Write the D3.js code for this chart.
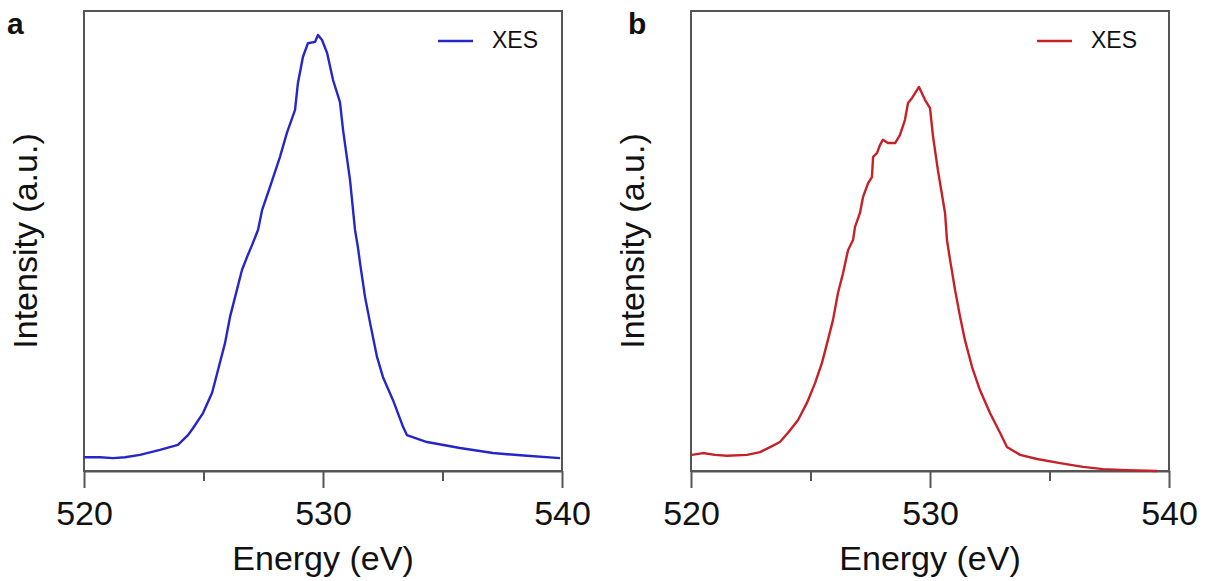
<!DOCTYPE html>
<html>
<head>
<meta charset="utf-8">
<script src="https://cdn.jsdelivr.net/npm/d3@7"></script>
<style>
  body { margin: 0; background: #fff; }
  text { font-family: 'Liberation Sans', Arial, sans-serif; fill: #111; }
  .axis path, .axis line, .frame { stroke: #555; stroke-width: 2; }
</style>
</head>
<body>
<svg id="chart"></svg>
<script>
// X-Axis: Energy (eV)
// Y-Axis: Intensity (a.u.), no tick labels
const xTicks = [520, 530, 540];
const xMinorTicks = [525, 535];

// panel a (blue)
const energyA = [520.00, 520.67, 521.21, 521.72, 522.34, 523.18, 523.93, 524.35, 524.56, 524.98,
  525.36, 525.61, 525.90, 526.11, 526.32, 526.61, 526.82, 527.03, 527.28, 527.45,
  527.78, 528.20, 528.49, 528.83, 528.95, 529.16, 529.37, 529.67, 529.79, 529.96,
  530.17, 530.42, 530.71, 530.84, 531.13, 531.34, 531.46, 531.55, 531.76, 531.97,
  532.26, 532.51, 532.93, 533.35, 533.51, 534.35, 535.73, 537.11, 538.54, 539.92];
const intensityA = [0.030, 0.030, 0.028, 0.030, 0.035, 0.046, 0.057, 0.078, 0.093, 0.126,
  0.170, 0.220, 0.278, 0.335, 0.378, 0.437, 0.465, 0.491, 0.524, 0.567,
  0.617, 0.683, 0.735, 0.785, 0.843, 0.900, 0.930, 0.933, 0.948, 0.937,
  0.909, 0.850, 0.802, 0.741, 0.633, 0.524, 0.487, 0.452, 0.378, 0.322,
  0.248, 0.204, 0.154, 0.096, 0.078, 0.063, 0.050, 0.039, 0.033, 0.028];

// panel b (red)
const energyB = [520.04, 520.50, 521.00, 521.51, 522.34, 522.89, 523.31, 523.72, 524.06, 524.48,
  524.85, 525.19, 525.48, 525.73, 525.94, 526.15, 526.36, 526.57, 526.78, 526.86,
  527.07, 527.20, 527.41, 527.57, 527.62, 527.78, 527.91, 528.03, 528.24, 528.54,
  528.74, 528.95, 529.08, 529.25, 529.54, 529.79, 530.00, 530.13, 530.33, 530.63,
  530.71, 530.84, 531.05, 531.26, 531.46, 531.76, 532.09, 532.51, 532.93, 533.22,
  533.77, 534.48, 535.44, 536.40, 537.24, 538.24, 539.50];
const intensityB = [0.035, 0.039, 0.035, 0.033, 0.035, 0.041, 0.052, 0.063, 0.083, 0.111,
  0.148, 0.191, 0.235, 0.285, 0.328, 0.387, 0.430, 0.480, 0.502, 0.530,
  0.561, 0.596, 0.626, 0.639, 0.683, 0.691, 0.709, 0.720, 0.713, 0.713,
  0.730, 0.763, 0.800, 0.811, 0.835, 0.807, 0.789, 0.726, 0.654, 0.561,
  0.502, 0.459, 0.393, 0.335, 0.285, 0.226, 0.176, 0.126, 0.083, 0.052,
  0.035, 0.026, 0.017, 0.009, 0.004, 0.002, 0.000];

const zip = (xs, ys) => xs.map((x, i) => ({ energy: x, intensity: ys[i] }));

class XesPanel {
  constructor(_config, _data) {
    this.config = {
      svg: _config.svg,
      left: _config.left,
      top: 11,
      width: 478,
      height: 460,
      color: _config.color,
      letter: _config.letter,
      letterX: _config.letterX,
      yLabelX: _config.yLabelX,
      legendX: _config.legendX,
    };
    this.data = _data;
    this.initVis();
  }

  initVis() {
    const vis = this;
    const c = vis.config;

    vis.xScale = d3.scaleLinear().domain([520, 540]).range([0, c.width]);
    vis.yScale = d3.scaleLinear().domain([0, 1]).range([c.height, 0]);

    vis.chart = c.svg.append('g')
      .attr('transform', `translate(${c.left},${c.top})`);

    // minor ticks first (no labels)
    vis.chart.append('g')
      .attr('class', 'axis')
      .attr('transform', `translate(0,${c.height})`)
      .call(d3.axisBottom(vis.xScale).tickValues(xMinorTicks).tickSize(10).tickFormat(''))
      .call((g) => g.select('.domain').remove());

    vis.xAxisG = vis.chart.append('g')
      .attr('class', 'axis')
      .attr('transform', `translate(0,${c.height})`)
      .call(d3.axisBottom(vis.xScale)
        .tickValues(xTicks)
        .tickSizeInner(17)
        .tickSizeOuter(0)
        .tickPadding(13)
        .tickFormat(d3.format('d')));
    vis.xAxisG.selectAll('text')
      .attr('font-size', 34)
      .attr('font-family', "'Liberation Sans', Arial, sans-serif")
      .attr('fill', '#111');

    // frame
    vis.chart.append('rect')
      .attr('class', 'frame')
      .attr('width', c.width)
      .attr('height', c.height)
      .attr('fill', 'none');

    // axis titles
    vis.chart.append('text')
      .attr('x', c.width / 2)
      .attr('y', 559)
      .attr('text-anchor', 'middle')
      .attr('font-size', 34)
      .text('Energy (eV)');

    vis.chart.append('text')
      .attr('transform', `translate(${c.yLabelX},${c.height / 2}) rotate(-90)`)
      .attr('text-anchor', 'middle')
      .attr('font-size', 34)
      .text('Intensity (a.u.)');

    // panel letter
    vis.chart.append('text')
      .attr('x', c.letterX)
      .attr('y', 23)
      .attr('font-size', 30)
      .attr('font-weight', 'bold')
      .text(c.letter);

    // legend
    vis.chart.append('line')
      .attr('x1', c.legendX).attr('x2', c.legendX + 35)
      .attr('y1', 30).attr('y2', 30)
      .attr('stroke', c.color)
      .attr('stroke-width', 2.5);
    vis.chart.append('text')
      .attr('x', c.legendX + 54)
      .attr('y', 37)
      .attr('font-size', 23)
      .text('XES');

    vis.renderVis();
  }

  renderVis() {
    const vis = this;
    vis.chart.append('path')
      .datum(vis.data)
      .attr('fill', 'none')
      .attr('stroke', vis.config.color)
      .attr('stroke-width', 2.4)
      .attr('stroke-linejoin', 'round')
      .attr('d', d3.line()
        .x((d) => vis.xScale(d.energy))
        .y((d) => vis.yScale(d.intensity)));
  }
}

const svg = d3.select('#chart')
  .attr('width', 1212)
  .attr('height', 581);

svg.append('rect').attr('width', 1212).attr('height', 581).attr('fill', '#fff');

new XesPanel({
  svg, left: 84, color: '#2626c8', letter: 'a', letterX: -77, yLabelX: -47, legendX: 354,
}, zip(energyA, intensityA));

new XesPanel({
  svg, left: 691, color: '#c42128', letter: 'b', letterX: -63, yLabelX: -47, legendX: 346,
}, zip(energyB, intensityB));
</script>
</body>
</html>
